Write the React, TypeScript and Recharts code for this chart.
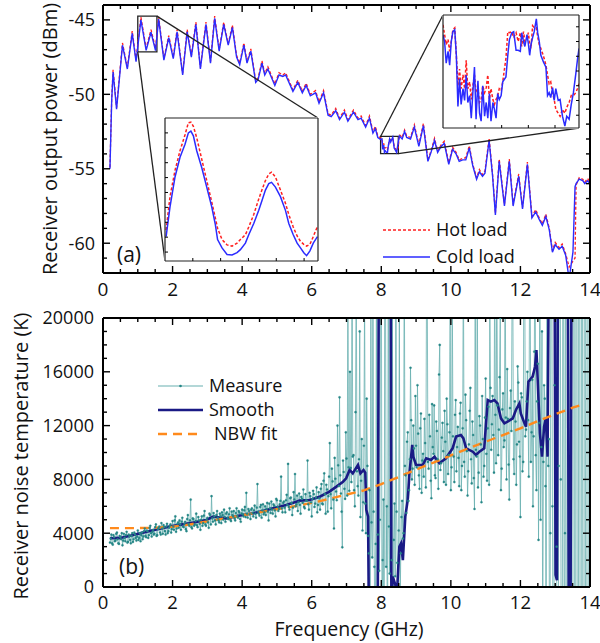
import { LineChart, ComposedChart, Line, XAxis, YAxis, ReferenceArea, ReferenceLine, Legend } from 'recharts'

const FONT = '"Open Sans", "Liberation Sans", sans-serif'
const INK = '#111'

// ---------- panel (a): receiver output power, dBm ----------
const powerFreq = [
  0.2, 0.25, 0.29, 0.39, 0.56, 0.7, 0.84, 0.95, 1.0, 1.09,
  1.24, 1.38, 1.51, 1.6, 1.75, 1.89, 2.02, 2.13, 2.29, 2.42,
  2.54, 2.67, 2.8, 2.96, 3.09, 3.21, 3.34, 3.47, 3.6, 3.72,
  3.84, 3.93, 4.05, 4.14, 4.25, 4.39, 4.46, 4.57, 4.65, 4.74,
  4.94, 5.06, 5.17, 5.25, 5.46, 5.6, 5.73, 5.84, 5.96, 6.11,
  6.21, 6.34, 6.47, 6.56, 6.69, 6.8, 6.94, 7.04, 7.2, 7.33,
  7.42, 7.55, 7.66, 7.76, 7.83, 7.9, 7.98, 8.02, 8.04, 8.07,
  8.09, 8.12, 8.15, 8.18, 8.2, 8.24, 8.27, 8.33, 8.37, 8.44,
  8.49, 8.52, 8.6, 8.67, 8.73, 8.84, 8.95, 9.08, 9.21, 9.34,
  9.43, 9.53, 9.62, 9.72, 9.81, 9.94, 10.05, 10.15, 10.24, 10.34,
  10.43, 10.53, 10.63, 10.74, 10.82, 10.91, 10.98, 11.1, 11.2, 11.28,
  11.39, 11.54, 11.68, 11.79, 11.95, 12.06, 12.2, 12.33, 12.44, 12.54,
  12.63, 12.73, 12.83, 12.92, 13.0, 13.11, 13.2, 13.3, 13.4, 13.51,
  13.57, 13.6, 13.69, 13.79, 13.85, 13.93, 14.0,
]
const coldLoad = [
  -55.0, -50.4, -48.5, -51.0, -46.7, -48.3, -45.9, -47.8, -46.8, -45.0,
  -47.05, -45.83, -47.06, -44.95, -47.7, -46.2, -47.6, -45.8, -48.7, -45.8,
  -47.5, -45.3, -48.3, -45.3, -47.9, -44.9, -47.1, -45.3, -46.7, -45.5,
  -47.5, -48.0, -46.7, -47.9, -47.1, -49.2, -49.0, -47.9, -48.7, -48.3,
  -49.4, -48.7, -48.8, -48.7, -49.8, -49.2, -49.9, -49.4, -50.1, -49.9,
  -50.6, -49.9, -51.4, -51.5, -51.1, -51.7, -51.2, -51.8, -51.2, -51.7,
  -51.6, -52.2, -51.6, -52.6, -52.3, -52.9, -53.03, -53.0, -53.7, -53.4,
  -53.9, -53.8, -53.9, -53.9, -53.5, -53.0, -53.2, -52.87, -53.6, -53.9,
  -53.2, -52.8, -53.0, -52.5, -52.9, -53.0, -52.2, -53.5, -52.1, -54.5,
  -53.9, -53.1, -53.9, -53.5, -53.3, -54.7, -53.7, -54.0, -54.5, -54.4,
  -54.4, -53.6, -54.8, -55.7, -55.2, -55.5, -55.3, -53.1, -55.5, -58.1,
  -54.5, -57.5, -54.5, -57.5, -55.5, -57.7, -54.7, -58.3, -57.9, -58.4,
  -58.8, -58.2, -59.1, -60.6, -60.1, -60.4, -60.2, -60.8, -62.4, -60.6,
  -56.2, -56.0, -55.7, -55.8, -56.0, -55.8, -56.0,
]
const hotLoad = [
  -54.9, -50.3, -48.35, -50.9, -46.55, -48.2, -45.75, -47.7, -46.65, -44.82,
  -46.9, -45.66, -46.9, -44.8, -47.6, -46.05, -47.5, -45.65, -48.6, -45.65,
  -47.4, -45.15, -48.2, -45.15, -47.8, -44.75, -47.0, -45.15, -46.6, -45.35,
  -47.4, -47.9, -46.55, -47.8, -46.95, -49.1, -48.9, -47.75, -48.6, -48.15,
  -49.3, -48.55, -48.7, -48.55, -49.7, -49.05, -49.8, -49.25, -50.0, -49.75,
  -50.5, -49.75, -51.3, -51.4, -50.95, -51.6, -51.05, -51.7, -51.05, -51.6,
  -51.45, -52.1, -51.45, -52.5, -52.15, -52.8, -52.93, -52.96, -53.55, -53.3,
  -53.6, -53.6, -53.55, -53.7, -53.5, -53.0, -53.05, -52.96, -53.45, -53.8,
  -53.55, -52.7, -52.9, -52.4, -52.8, -52.9, -52.05, -53.4, -51.95, -54.4,
  -53.8, -52.95, -53.8, -53.4, -53.15, -54.6, -53.55, -53.9, -54.4, -54.3,
  -54.25, -53.45, -54.7, -55.6, -55.05, -55.4, -55.15, -52.95, -55.4, -58.0,
  -54.35, -57.4, -54.35, -57.4, -55.35, -57.6, -54.55, -58.2, -57.75, -58.3,
  -58.7, -58.05, -59.0, -60.5, -59.95, -60.3, -60.05, -60.7, -61.6, -61.2,
  -61.0, -56.1, -55.6, -55.7, -55.9, -55.65, -55.9,
]
const powerTicksX = [0, 0.5, 1, 1.5, 2, 2.5, 3, 3.5, 4, 4.5, 5, 5.5, 6, 6.5, 7, 7.5, 8, 8.5, 9, 9.5, 10, 10.5, 11, 11.5, 12, 12.5, 13, 13.5, 14]
const powerTicksY = [-62, -61, -60, -59, -58, -57, -56, -55, -54, -53, -52, -51, -50, -49, -48, -47, -46, -45, -44]

// inset 1: 1.0 - 1.55 GHz
const insetAFreq = [
  1.004, 1.018, 1.036, 1.054, 1.072, 1.084, 1.093, 1.102, 1.114, 1.132,
  1.15, 1.168, 1.181, 1.189, 1.205, 1.223, 1.241, 1.259, 1.271, 1.289,
  1.301, 1.319, 1.337, 1.349, 1.361, 1.373, 1.383, 1.397, 1.415, 1.433,
  1.445, 1.461, 1.475, 1.487, 1.499, 1.509, 1.521, 1.533, 1.548,
]
const insetACold = [
  -46.74, -46.24, -45.74, -45.41, -45.19, -45.0, -44.97, -45.05, -45.3, -45.58,
  -45.91, -46.24, -46.54, -46.79, -46.93, -47.04, -47.05, -47.01, -46.96, -46.85,
  -46.71, -46.52, -46.3, -46.13, -45.96, -45.85, -45.83, -45.91, -46.07, -46.3,
  -46.52, -46.71, -46.85, -46.93, -47.01, -47.06, -46.98, -46.85, -46.74,
]
const insetAHot = [
  -46.63, -46.07, -45.63, -45.3, -45.03, -44.83, -44.82, -44.89, -45.08, -45.44,
  -45.8, -46.16, -46.43, -46.6, -46.79, -46.88, -46.9, -46.85, -46.79, -46.71,
  -46.58, -46.37, -46.11, -45.95, -45.8, -45.69, -45.66, -45.74, -45.96, -46.18,
  -46.37, -46.58, -46.73, -46.82, -46.87, -46.9, -46.87, -46.74, -46.57,
]
const insetATicksX = [1.1, 1.2, 1.3, 1.4, 1.5]
const insetATicksY = [-47, -46.75, -46.5, -46.25, -46, -45.75, -45.5, -45.25, -45]

// inset 2: 7.98 - 8.49 GHz
const insetBFreq = [
  7.98, 7.986, 7.992, 7.999, 8.005, 8.011, 8.017, 8.024, 8.03, 8.036,
  8.042, 8.048, 8.055, 8.061, 8.067, 8.073, 8.08, 8.086, 8.092, 8.098,
  8.104, 8.111, 8.117, 8.123, 8.129, 8.136, 8.142, 8.148, 8.154, 8.16,
  8.167, 8.173, 8.179, 8.185, 8.191, 8.198, 8.204, 8.216, 8.223, 8.229,
  8.238, 8.245, 8.254, 8.262, 8.27, 8.275, 8.282, 8.287, 8.295, 8.3,
  8.305, 8.31, 8.316, 8.322, 8.33, 8.335, 8.341, 8.347, 8.357, 8.366,
  8.372, 8.378, 8.384, 8.391, 8.397, 8.403, 8.412, 8.419, 8.428, 8.437,
  8.444, 8.453, 8.461, 8.469, 8.478, 8.484, 8.49,
]
const insetBCold = [
  -53.03, -53.1, -53.32, -53.2, -53.34, -53.1, -53.0, -52.98, -53.24, -53.76,
  -53.48, -53.74, -53.58, -53.7, -53.44, -53.72, -53.65, -53.88, -53.62, -53.36,
  -53.89, -53.5, -53.83, -53.91, -53.55, -53.86, -53.72, -53.88, -53.63, -53.91,
  -53.72, -53.79, -53.88, -53.63, -53.69, -53.65, -53.51, -53.46, -53.24, -53.08,
  -53.01, -53.0, -53.19, -53.19, -53.2, -53.01, -53.1, -53.15, -53.03, -53.12,
  -53.24, -53.13, -53.06, -53.0, -52.87, -53.01, -53.1, -53.24, -53.31, -53.36,
  -53.65, -53.62, -53.67, -53.57, -53.7, -53.58, -53.7, -53.69, -53.86, -53.96,
  -53.86, -53.89, -53.74, -53.62, -53.43, -53.29, -53.17,
]
const insetBHot = [
  -52.93, -53.03, -53.13, -53.08, -53.2, -53.1, -52.98, -52.96, -53.24, -53.55,
  -53.38, -53.58, -53.44, -53.58, -53.29, -53.58, -53.51, -53.69, -53.55, -53.44,
  -53.62, -53.58, -53.72, -53.69, -53.55, -53.62, -53.57, -53.44, -53.69, -53.58,
  -53.69, -53.74, -53.69, -53.65, -53.58, -53.6, -53.51, -53.27, -53.0, -53.01,
  -53.0, -53.06, -53.01, -53.1, -53.01, -53.15, -53.0, -53.1, -53.08, -53.01,
  -53.12, -53.17, -52.94, -52.96, -52.96, -53.05, -53.13, -53.17, -53.25, -53.34,
  -53.44, -53.53, -53.51, -53.63, -53.69, -53.79, -53.83, -53.86, -53.79, -53.83,
  -53.77, -53.72, -53.65, -53.65, -53.62, -53.58, -53.53,
]
const insetBTicksX = [8.1, 8.2, 8.3, 8.4]
const insetBTicksY = [-53.85, -53.7, -53.55, -53.4, -53.25, -53.1, -52.95]

const zoomA = { x: [1.0, 1.55], y: [-47.15, -44.75] }
const zoomB = { x: [7.98, 8.49], y: [-53.98, -52.83] }

// ---------- panel (b): receiver noise temperature, K ----------
// measured points on a 0.04 GHz grid starting at 0.20 GHz ...
const measureStart = 0.2
const measureStep = 0.04
const measureK = [
  3300, 3900, 3150, 3700, 3450, 4050, 3250, 3800, 3550, 3100, 3950, 3400, 4100, 3350, 3750, 3250, 4000, 3550, 3900, 3450, 4200, 3650, 3400, 4050, 3750,
  4350, 3700, 4150, 3850, 4550, 3750, 4250, 3950, 4650, 3850, 4400, 4050, 4750, 3950, 4450, 3900, 4700, 4150, 4550, 4050, 4900, 4250, 5250, 4350, 4800,
  4950, 4250, 5150, 4450, 4850, 4150, 5350, 4550, 6500, 4350, 5050, 4650, 5450, 4450, 4950, 4250, 5250, 4750, 5650, 4550, 5150, 4400, 5350, 6750, 4850,
  5250, 4650, 5650, 4950, 5450, 4750, 5350, 5750, 4850, 5550, 5050, 5850, 4900, 5350, 5650, 4950, 5850, 5150, 5550, 4850, 5750, 5250, 5950, 7000, 5150,
  5650, 5050, 5850, 5250, 6050, 5150, 7650, 5450, 5950, 5150, 6150, 5550, 5350, 6250, 4950, 5850, 6350, 5450, 6050, 5250, 6450, 5650, 6150, 8200, 5550,
  6350, 5550, 6850, 9150, 5750, 6650, 5350, 7050, 8400, 6150, 5650, 6950, 5450, 6550, 7250, 5850, 6450, 9400, 5750, 6750, 5250, 7150, 5950, 6650, 5550,
  7050, 5750, 7650, 6150, 8450, 5450, 7250, 6750, 10700, 5850, 7850, 4350, 8050, 6450, 9050, 14100, 6950, 2950, 8550, 6550, 9550, 24000, 7150, 8850, 26000,
  9800, 6000, 25000, 7500, 9500, 5200, 11000, 6300, 22000, 4000, 9000, 2500, -8000, 4800, 26000, 1500, 3200, -9000, 27000, 5000, 30000, 2000, -15000, 25000, 6000,
  28000, 1000, -6000, 22000, 3500, 800, 5600, -3000, 21000, 2500, 6400, 4000, 9000, 5500, 11500, 7200, 16300, 8000, 12000, 7600, 10500, 15000, 8300, 11800, 7000,
  9900, 12500, 7400, 24000, 8800, 11200, 6600, 10400, 13500, 8100, 11600, 7300, 18000, 9200, 12200, 7800, 10800, 14000, 8400, 11500, 7200, 23000, 9700, 12800, 8600,
  11900, 7500, 13700, 9000, 25000, 8200, 12400, 6800, 10600, 14800, 7700, 11300, 5800, 10200, 24000, 8500, 12000, 6300, 11000, 9000, 15500, 7900, 13400, 21000, 10200,
  14200, 8500, 12800, 25000, 9800, 15600, 7200, 13200, 10400, 26000, 8000, 12500, 6500, 14600, 22000, 9500, 13800, 7600, 16400, 10800, 5200, 14100, 9300, 27000, 11700,
  16000, 8200, 24000, 11500, 6000, 17500, 9800, 13800, 3500, 26000, 10400, -5000, 15000, 7500, 28000, 9000, -12000, 30000, 6000, -8000, 25000, 3000, -20000, 32000, 8000,
  -15000, 28000, 4000, -20000, 35000, -10000, 30000, -25000, 40000, -30000, 45000, -40000, 50000, -40000, 50000, -45000, 50000, -50000, 55000, -50000, 55000,
]
// ... and the points in between, starting at 0.22 GHz
const measureMidK = [
  3600, 3250, 3850, 3400, 3950, 3550, 3200, 3700, 4000, 3450, 3650, 3850, 3300, 3900, 3500, 3800, 3350, 4050, 3650, 3750, 3500, 4000, 3850, 3550, 4150,
  3800, 4200, 3650, 4400, 4000, 4100, 3900, 4450, 3800, 4300, 4500, 3900, 4350, 4600, 4150, 4500, 4000, 4400, 4650, 4300, 4500, 4950, 4100, 4700, 4400,
  4650, 4850, 4500, 4700, 4300, 5050, 4700, 4950, 4450, 5100, 4550, 4900, 4600, 5200, 4700, 5000, 4550, 5300, 4650, 5000, 4800, 5450, 4650, 5100, 5500,
  4950, 5350, 5150, 4800, 5250, 5550, 5000, 5200, 5450, 5150, 5400, 5000, 5600, 5250, 5100, 5500, 5300, 5650, 5050, 5450, 5400, 5700, 5200, 5450, 5800,
  5400, 5750, 5500, 5700, 5450, 5900, 5600, 5300, 6100, 5700, 5400, 6000, 5800, 5600, 6200, 5500, 5750, 6150, 5700, 6550, 5950, 5800, 6400, 5850, 6250,
  5900, 6450, 6100, 5950, 6600, 6250, 5900, 6500, 6000, 6800, 6300, 6100, 6700, 6250, 5950, 6900, 6400, 6150, 7000, 6300, 6550, 6900, 6200, 7400, 6100,
  6600, 7300, 6200, 7900, 6900, 7600, 5600, 8200, 6900, 8800, 6500, 9600, 7100, 12000, 7500, 8300, 5600, 9400, 7300, 11500, 6800, 8900, 16000, 7800, 9700,
  7200, 13000, 8600, 6800, 19000, 7900, 4200, 10500, 6200, 14000, 3800, 7200, 24000, 2200, 5600, -6000, 22000, 3900, 1200, 25000, -4000, 6500, 28000, 1500, -10000,
  4500, 24000, 2000, -5000, 6200, 25000, 1800, 4200, -2000, 5200, 3600, 26000, 8300, 10800, 6400, 9500, 12400, 8800, 10300, 14200, 8900, 11400, 7300, 12900, 9400,
  8200, 10700, 22000, 9300, 12800, 7900, 13600, 9900, 8300, 12300, 9500, 15800, 8700, 11100, 10100, 13100, 7600, 12100, 9800, 21000, 8900, 11200, 7800, 13900, 10400,
  9600, 12900, 7200, 11800, 9300, 14300, 10100, 8600, 13100, 9500, 12300, 8100, 24000, 9700, 7400, 12700, 10600, 14200, 8200, 12600, 9900, 11800, 7600, 14800, 12100,
  11300, 25000, 9200, 13500, 11700, 20000, 8800, 14400, 10900, 12600, 16200, 9100, 13300, 11600, 23000, 8400, 12300, 10600, 15200, 9700, 14400, 8600, 26000, 11200, 13800,
  12400, 21000, 9300, 15400, 11200, 28000, 7200, 16600, 12200, 5000, 19000, 9300, 14000, -9000, 24000, 11000, 4000, 27000, -6000, 15000, 31000, -15000, 9000, 30000, -18000,
  30000, -12000, 33000, -18000, 38000, -20000, 36000, -28000, 42000, -35000, 48000, -42000, 52000, -45000, 52000, -48000, 54000, -50000, 56000, -52000,
]
const smoothFreq = [
  0.2, 0.5, 0.87, 1.2, 1.5, 1.83, 2.2, 2.6, 2.97, 3.17, 3.35, 3.55, 3.9, 4.31, 4.6, 4.89, 5.27, 5.56, 5.65, 5.94,
  6.23, 6.51, 6.71, 6.9, 6.99, 7.09, 7.18, 7.33, 7.4, 7.49, 7.54, 7.57, 7.62, 7.64, 7.9, 7.93, 8.27, 8.29, 8.33, 8.4,
  8.45, 8.52, 8.57, 8.62, 8.69, 8.76, 8.81, 8.89, 8.92, 9.0, 9.19, 9.29, 9.43, 9.53, 9.67, 9.86, 10.05, 10.15, 10.29, 10.36,
  10.44, 10.63, 10.72, 10.82, 10.96, 11.06, 11.15, 11.25, 11.34, 11.44, 11.54, 11.63, 11.78, 11.87, 11.97, 12.01, 12.1, 12.16, 12.23, 12.35,
  12.42, 12.46, 12.52, 12.56, 12.62, 12.68, 12.73, 12.78, 12.82, 12.98, 13.01, 13.05, 13.08, 13.36, 13.39, 13.44, 13.47, 13.6,
]
const smoothK = [
  3620, 3650, 3870, 4080, 4250, 4450, 4620, 4790, 4980, 5230, 5170, 5100, 5300, 5480, 5650, 5850, 6100, 6340, 6420, 6470,
  6710, 7090, 7460, 7830, 8080, 8700, 8450, 9070, 8450, 8700, 8500, 5730, 5230, -1000, -1000, 25000, 25000, -1000, 770, 200,
  -500, 3000, 3250, 2000, 5230, 6470, 8450, 10560, 9690, 9070, 9070, 9570, 9440, 9690, 9200, 9570, 10310, 11180, 11300, 11050,
  10310, 10060, 9820, 10060, 10310, 13900, 13780, 13900, 13650, 12540, 12170, 12290, 12540, 13160, 13650, 12910, 12290, 11920, 15260, 15640,
  16380, 17620, 13900, 11430, 9690, 11920, 12540, 9690, 26000, 26000, 900, 500, 26000, 26000, -2000, -2000, 26000, 26000,
]
const fitFreq = [0.2, 1.0, 1.5, 2.0, 2.5, 3.0, 3.5, 4.0, 4.5, 5.0, 5.5, 6.0, 6.5, 7.0, 7.5, 8.0, 8.5, 9.0, 9.5, 10.0, 10.5, 11.0, 11.5, 12.0, 12.5, 13.0, 13.5, 13.7]
const fitK = [4380, 4380, 4400, 4480, 4650, 4880, 5100, 5330, 5560, 5780, 6000, 6250, 6550, 6870, 7180, 7650, 8180, 8730, 9250, 9780, 10300, 10800, 11300, 11800, 12330, 12850, 13330, 13500]
const noiseTicksY = [0, 1000, 2000, 3000, 4000, 5000, 6000, 7000, 8000, 9000, 10000, 11000, 12000, 13000, 14000, 15000, 16000, 17000, 18000, 19000, 20000]

const powerRows = powerFreq.map((f, i) => ({ f, cold: coldLoad[i], hot: hotLoad[i] }))
const measureRows = measureK.flatMap((k, i) => {
  const f = +(measureStart + i * measureStep).toFixed(2)
  const row = [{ f, k }]
  if (i < measureMidK.length) row.push({ f: +(f + measureStep / 2).toFixed(2), k: measureMidK[i] })
  return row
})
const smoothRows = smoothFreq.map((f, i) => ({ f, k: smoothK[i] }))
const fitRows = fitFreq.map((f, i) => ({ f, k: fitK[i] }))

// series styles
const HOT = { color: '#ff1f1f', width: 1.3, dash: '3 2' }
const COLD = { color: '#2b2bff', width: 1.4 }
const MEASURE = { color: '#68b0b0', dot: '#248686', width: 0.8 }
const SMOOTH = { color: '#1a1a85', width: 2.6 }
const FIT = { color: '#ff8a1c', width: 2.4, dash: '9 6' }

// pixel box of panel (a) plot area, used to place the inset boxes
const PLOT_A = { left: 103, right: 590, top: 5, bottom: 273 }
const INSET_A = { left: 165, top: 118, width: 153, height: 143 }
const INSET_B = { left: 443, top: 15, width: 136, height: 113 }
const pxToFreq = (px: number) => ((px - PLOT_A.left) / (PLOT_A.right - PLOT_A.left)) * 14
const pyToDbm = (py: number) => -44 - ((py - PLOT_A.top) / (PLOT_A.bottom - PLOT_A.top)) * 18

const frame = { stroke: '#000', strokeWidth: 2 }
const insetFrame = { stroke: '#222', strokeWidth: 1.2 }

type Side = 'left' | 'right' | 'top' | 'bottom'

function FrameTick({ x, y, value, side, major, majorLen = 7, minorLen = 4, labels = false, fontSize = 18, labelGap = 8, width = 1.4 }: {
  x: number; y: number; value: number; side: Side; major: number; majorLen?: number; minorLen?: number
  labels?: boolean; fontSize?: number; labelGap?: number; width?: number
}) {
  const isMajor = Math.abs(value / major - Math.round(value / major)) < 1e-6
  const len = isMajor ? majorLen : minorLen
  const end = side === 'left' ? [x + len, y] : side === 'right' ? [x - len, y] : side === 'top' ? [x, y + len] : [x, y - len]
  return (
    <g>
      <line x1={x} y1={y} x2={end[0]} y2={end[1]} stroke="#000" strokeWidth={width} />
      {labels && isMajor && side === 'left' && (
        <text x={x - labelGap} y={y} dy="0.36em" textAnchor="end" fontSize={fontSize} fontFamily={FONT} fill={INK}>{String(value)}</text>
      )}
      {labels && isMajor && side === 'bottom' && (
        <text x={x} y={y + labelGap} textAnchor="middle" fontSize={fontSize} fontFamily={FONT} fill={INK}>{String(value)}</text>
      )}
    </g>
  )
}

function AxisTitle({ titleX, titleY, title, vertical = false, fs = 20 }: { titleX: number; titleY: number; title: string; vertical?: boolean; fs?: number }) {
  return (
    <text x={titleX} y={titleY} transform={vertical ? `rotate(-90 ${titleX} ${titleY})` : undefined}
      textAnchor="middle" fontSize={fs} fontFamily={FONT} fill={INK}>{title}</text>
  )
}

type LegendRow = { label: string; color: string; width: number; dash?: string; dot?: string; textDx?: number }

function LegendBox({ rows, gap, lineLen }: { rows: LegendRow[]; gap: number; lineLen: number }) {
  return (
    <svg width={200} height={rows.length * gap + 12}>
      {rows.map((r, i) => {
        const cy = 12 + i * gap
        return (
          <g key={r.label}>
            <line x1={2} x2={2 + lineLen} y1={cy} y2={cy} stroke={r.color} strokeWidth={r.width} strokeDasharray={r.dash} />
            {r.dot && <circle cx={2 + lineLen / 2} cy={cy} r={1.3} fill={r.dot} />}
            <text x={lineLen + 8 + (r.textDx || 0)} y={cy} dy="0.36em" fontSize={18} fontFamily={FONT} fill={INK}>{r.label}</text>
          </g>
        )
      })}
    </svg>
  )
}

function PowerPanel() {
  const segA = [
    [{ x: zoomA.x[1], y: zoomA.y[1] }, { x: pxToFreq(INSET_A.left + INSET_A.width), y: pyToDbm(INSET_A.top) }],
    [{ x: zoomA.x[0], y: zoomA.y[0] }, { x: pxToFreq(INSET_A.left), y: pyToDbm(INSET_A.top + INSET_A.height) }],
  ]
  const segB = [
    [{ x: zoomB.x[0], y: zoomB.y[1] }, { x: pxToFreq(INSET_B.left), y: pyToDbm(INSET_B.top) }],
    [{ x: zoomB.x[1], y: zoomB.y[0] }, { x: pxToFreq(INSET_B.left + INSET_B.width), y: pyToDbm(INSET_B.top + INSET_B.height) }],
  ]
  return (
    <div style={{ position: 'absolute', left: 0, top: 0 }}>
      <LineChart width={600} height={306} data={powerRows} margin={{ top: 4, right: 9, bottom: 0, left: 0 }}>
        <XAxis dataKey="f" type="number" domain={[0, 14]} allowDataOverflow ticks={powerTicksX} interval={0}
          height={33} tickSize={0} tickMargin={0} tickLine={false} axisLine={frame}
          tick={(p: any) => <FrameTick x={p.x} y={p.y} value={p.payload.value} side="bottom" major={2} labels fontSize={19} labelGap={23} />} />
        <XAxis xAxisId="top" dataKey="f" orientation="top" type="number" domain={[0, 14]} allowDataOverflow ticks={powerTicksX} interval={0}
          height={1} tickSize={0} tickMargin={0} tickLine={false} axisLine={frame}
          tick={(p: any) => <FrameTick x={p.x} y={p.y} value={p.payload.value} side="top" major={2} />} />
        <YAxis type="number" domain={[-62, -44]} allowDataOverflow ticks={powerTicksY} interval={0}
          width={103} tickSize={0} tickMargin={0} tickLine={false} axisLine={frame}
          tick={(p: any) => <FrameTick x={p.x} y={p.y} value={p.payload.value} side="left" major={5} labels />}
          label={<AxisTitle titleX={57} titleY={139} title="Receiver output power (dBm)" vertical />} />
        <YAxis yAxisId="right" orientation="right" type="number" domain={[-62, -44]} allowDataOverflow ticks={powerTicksY} interval={0}
          width={1} tickSize={0} tickMargin={0} tickLine={false} axisLine={frame}
          tick={(p: any) => <FrameTick x={p.x} y={p.y} value={p.payload.value} side="right" major={5} />} />
        {/* invisible copy that binds the top and right frame axes */}
        <Line xAxisId="top" yAxisId="right" dataKey="cold" stroke="none" dot={false} activeDot={false} legendType="none" isAnimationActive={false} />
        <Line dataKey="hot" name="Hot load" stroke={HOT.color} strokeWidth={HOT.width} strokeDasharray={HOT.dash} dot={false} isAnimationActive={false} />
        <Line dataKey="cold" name="Cold load" stroke={COLD.color} strokeWidth={COLD.width} dot={false} isAnimationActive={false} />
        <ReferenceArea x1={zoomA.x[0]} x2={zoomA.x[1]} y1={zoomA.y[0]} y2={zoomA.y[1]} fill="none" fillOpacity={0} stroke="#222" strokeWidth={1.3} />
        <ReferenceArea x1={zoomB.x[0]} x2={zoomB.x[1]} y1={zoomB.y[0]} y2={zoomB.y[1]} fill="none" fillOpacity={0} stroke="#222" strokeWidth={1.3} />
        {[...segA, ...segB].map((s, i) => (
          <ReferenceLine key={i} segment={s} stroke="#222" strokeWidth={1.3} />
        ))}
        <Legend layout="vertical" align="center" verticalAlign="middle"
          wrapperStyle={{ left: 381, top: 218, width: 200 }}
          content={() => (
            <LegendBox gap={27} lineLen={47} rows={[
              { label: 'Hot load', color: HOT.color, width: HOT.width, dash: HOT.dash },
              { label: 'Cold load', color: COLD.color, width: COLD.width },
            ]} />
          )} />
      </LineChart>
    </div>
  )
}

function ZoomInset({ box, freq, cold, hot, win, ticksX, ticksY, side }: {
  box: { left: number; top: number; width: number; height: number }
  freq: number[]; cold: number[]; hot: number[]
  win: { x: number[]; y: number[] }; ticksX: number[]; ticksY: number[]; side: 'left' | 'right'
}) {
  const rows = freq.map((f, i) => ({ f, cold: cold[i], hot: hot[i] }))
  const other = side === 'left' ? 'right' : 'left'
  return (
    <div style={{ position: 'absolute', left: box.left - 1, top: box.top - 1, background: '#fff' }}>
      <LineChart width={box.width + 2} height={box.height + 2} data={rows} margin={{ top: 0, right: 0, bottom: 0, left: 0 }}>
        <XAxis dataKey="f" type="number" domain={win.x} allowDataOverflow ticks={ticksX} interval={0}
          height={1} tickSize={0} tickMargin={0} tickLine={false} axisLine={insetFrame}
          tick={(p: any) => <FrameTick x={p.x} y={p.y} value={p.payload.value} side="bottom" major={100} minorLen={3} width={1} />} />
        <XAxis xAxisId="top" orientation="top" type="number" domain={win.x} allowDataOverflow
          height={1} tick={false} tickLine={false} axisLine={insetFrame} />
        <YAxis orientation={side} type="number" domain={win.y} allowDataOverflow ticks={ticksY} interval={0}
          width={1} tickSize={0} tickMargin={0} tickLine={false} axisLine={insetFrame}
          tick={(p: any) => <FrameTick x={p.x} y={p.y} value={p.payload.value} side={side} major={100} minorLen={3} width={1} />} />
        <YAxis yAxisId="other" orientation={other} type="number" domain={win.y} allowDataOverflow
          width={1} tick={false} tickLine={false} axisLine={insetFrame} />
        <Line dataKey="hot" stroke={HOT.color} strokeWidth={1.5} strokeDasharray={HOT.dash} dot={false} isAnimationActive={false} />
        <Line dataKey="cold" stroke={COLD.color} strokeWidth={1.5} dot={false} isAnimationActive={false} />
      </LineChart>
    </div>
  )
}

function NoisePanel() {
  return (
    <div style={{ position: 'absolute', left: 0, top: 300 }}>
      <ComposedChart width={600} height={343} margin={{ top: 17, right: 9, bottom: 0, left: 0 }}>
        <XAxis dataKey="f" type="number" domain={[0, 14]} allowDataOverflow ticks={powerTicksX} interval={0}
          height={56} tickSize={0} tickMargin={0} tickLine={false} axisLine={frame}
          tick={(p: any) => <FrameTick x={p.x} y={p.y} value={p.payload.value} side="bottom" major={2} labels fontSize={18.5} labelGap={22} />}
          label={<AxisTitle titleX={349} titleY={336} title="Frequency (GHz)" fs={19.5} />} />
        <XAxis xAxisId="top" dataKey="f" orientation="top" type="number" domain={[0, 14]} allowDataOverflow ticks={powerTicksX} interval={0}
          height={1} tickSize={0} tickMargin={0} tickLine={false} axisLine={frame}
          tick={(p: any) => <FrameTick x={p.x} y={p.y} value={p.payload.value} side="top" major={2} />} />
        <YAxis type="number" domain={[0, 20000]} allowDataOverflow ticks={noiseTicksY} interval={0}
          width={103} tickSize={0} tickMargin={0} tickLine={false} axisLine={frame}
          tick={(p: any) => <FrameTick x={p.x} y={p.y} value={p.payload.value} side="left" major={4000} labels labelGap={9} />}
          label={<AxisTitle titleX={28} titleY={156} title="Receiver noise temperature (K)" vertical />} />
        <YAxis yAxisId="right" orientation="right" type="number" domain={[0, 20000]} allowDataOverflow ticks={noiseTicksY} interval={0}
          width={1} tickSize={0} tickMargin={0} tickLine={false} axisLine={frame}
          tick={(p: any) => <FrameTick x={p.x} y={p.y} value={p.payload.value} side="right" major={4000} />} />
        {/* invisible copy that binds the top and right frame axes */}
        <Line data={fitRows} xAxisId="top" yAxisId="right" dataKey="k" stroke="none" dot={false} activeDot={false} legendType="none" isAnimationActive={false} />
        <Line data={measureRows} dataKey="k" name="Measure" stroke={MEASURE.color} strokeWidth={MEASURE.width}
          dot={{ r: 1.1, fill: MEASURE.dot, stroke: MEASURE.dot, strokeWidth: 0.3 }} isAnimationActive={false} />
        <Line data={smoothRows} dataKey="k" name="Smooth" stroke={SMOOTH.color} strokeWidth={SMOOTH.width} dot={false} isAnimationActive={false} />
        <Line data={fitRows} dataKey="k" name="NBW fit" stroke={FIT.color} strokeWidth={FIT.width} strokeDasharray={FIT.dash} dot={false} isAnimationActive={false} />
        <Legend layout="vertical" align="center" verticalAlign="middle"
          wrapperStyle={{ left: 156, top: 74, width: 200 }}
          content={() => (
            <LegendBox gap={24} lineLen={45} rows={[
              { label: 'Measure', color: MEASURE.color, width: 1.2, dot: MEASURE.dot },
              { label: 'Smooth', color: SMOOTH.color, width: SMOOTH.width },
              { label: 'NBW fit', color: FIT.color, width: FIT.width, dash: FIT.dash, textDx: 5 },
            ]} />
          )} />
      </ComposedChart>
    </div>
  )
}

export default function App() {
  return (
    <div style={{ position: 'absolute', left: 0, top: 0, width: 600, height: 643, background: '#fff', fontFamily: FONT }}>
      <PowerPanel />
      <ZoomInset box={INSET_A} freq={insetAFreq} cold={insetACold} hot={insetAHot} win={zoomA}
        ticksX={insetATicksX} ticksY={insetATicksY} side="left" />
      <ZoomInset box={INSET_B} freq={insetBFreq} cold={insetBCold} hot={insetBHot} win={zoomB}
        ticksX={insetBTicksX} ticksY={insetBTicksY} side="right" />
      <NoisePanel />
      <svg width={600} height={643} style={{ position: 'absolute', left: 0, top: 0, pointerEvents: 'none' }}>
        <text x={117} y={262} fontSize={21} fontFamily={FONT} fill={INK}>(a)</text>
        <text x={119} y={574} fontSize={21} fontFamily={FONT} fill={INK}>(b)</text>
      </svg>
    </div>
  )
}
